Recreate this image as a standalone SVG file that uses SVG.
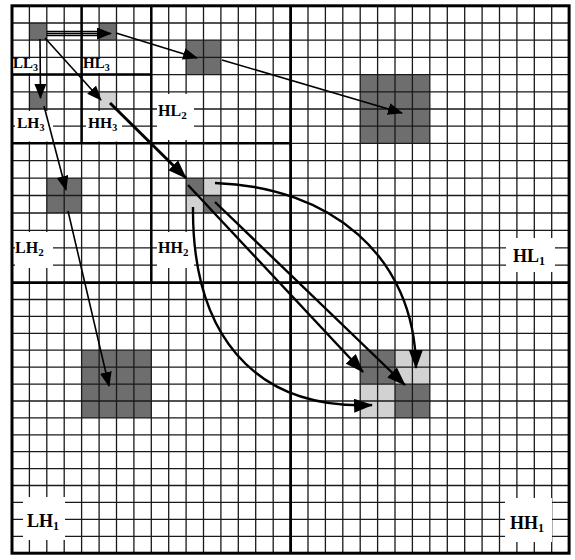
<svg xmlns="http://www.w3.org/2000/svg" width="575" height="560" viewBox="0 0 575 560">
<style>
.thin{fill:none;stroke:#1a1a1a;stroke-width:1.3}
.thick{fill:none;stroke:#000;stroke-width:2.5}
.frame{fill:none;stroke:#000;stroke-width:3}
.dk{fill:#6e6e6e}
.lt{fill:#d2d2d2}
.wb{fill:#fff}
.lbl{font-family:"Liberation Serif","Times New Roman",serif;font-weight:bold;fill:#000}
.a1{fill:none;stroke:#000;stroke-width:1.6}
.a2{fill:none;stroke:#000;stroke-width:2.4}
.a3{fill:none;stroke:#000;stroke-width:3}
</style>
<defs>
<marker id="ah" viewBox="0 0 19 14" refX="18" refY="7" markerWidth="19" markerHeight="14" orient="auto" markerUnits="userSpaceOnUse">
<path d="M0,0 L19,7 L0,14 z" fill="#000"/>
</marker>
<marker id="ahs" viewBox="0 0 15 12" refX="14" refY="6" markerWidth="15" markerHeight="12" orient="auto" markerUnits="userSpaceOnUse">
<path d="M0,0 L15,6 L0,12 z" fill="#000"/>
</marker>
</defs>
<rect x="0" y="0" width="575" height="560" fill="#fff"/>
<g id="blocks">
<rect class="dk" x="29.4" y="23" width="17.4" height="17.2"/>
<rect class="dk" x="99.1" y="23" width="17.4" height="17.2"/>
<rect class="dk" x="29.4" y="91.8" width="17.4" height="17.2"/>
<rect class="lt" x="99.1" y="91.8" width="17.4" height="17.2"/>
<rect class="dk" x="186.1" y="40.2" width="34.8" height="34.4"/>
<rect class="dk" x="46.8" y="178.1" width="34.8" height="34.9"/>
<rect class="dk" x="186.1" y="178.1" width="17.4" height="17.4"/>
<rect class="lt" x="203.5" y="178.1" width="17.4" height="17.4"/>
<rect class="lt" x="186.1" y="195.5" width="17.4" height="17.5"/>
<rect class="dk" x="203.5" y="195.5" width="17.4" height="17.5"/>
<rect class="dk" x="360.2" y="74.6" width="69.6" height="68.7"/>
<rect class="dk" x="81.6" y="350.2" width="69.7" height="67.7"/>
<rect class="dk" x="360.2" y="350.2" width="34.8" height="33.9"/>
<rect class="lt" x="395" y="350.2" width="34.8" height="33.9"/>
<rect class="lt" x="360.2" y="384.1" width="34.8" height="33.8"/>
<rect class="dk" x="395" y="384.1" width="34.8" height="33.8"/>
</g>
<g id="grid">
<path class="thin" d="M29.4 5.8V553.2M46.8 5.8V553.2M64.2 5.8V553.2M81.6 5.8V553.2M99.1 5.8V553.2M116.5 5.8V553.2M133.9 5.8V553.2M151.3 5.8V553.2M168.7 5.8V553.2M186.1 5.8V553.2M203.5 5.8V553.2M220.9 5.8V553.2M238.3 5.8V553.2M255.7 5.8V553.2M273.2 5.8V553.2M308 5.8V553.2M325.4 5.8V553.2M342.8 5.8V553.2M360.2 5.8V553.2M377.6 5.8V553.2M395 5.8V553.2M412.4 5.8V553.2M429.8 5.8V553.2M447.3 5.8V553.2M464.7 5.8V553.2M482.1 5.8V553.2M499.5 5.8V553.2M516.9 5.8V553.2M534.3 5.8V553.2M551.7 5.8V553.2"/>
<path class="thin" d="M12 23H569.1M12 40.2H569.1M12 57.4H569.1M12 74.6H569.1M12 91.8H569.1M12 109H569.1M12 126.1H569.1M12 143.3H569.1M12 160.7H569.1M12 178.1H569.1M12 195.5H569.1M12 213H569.1M12 230.4H569.1M12 247.8H569.1M12 265.2H569.1M12 299.5H569.1M12 316.4H569.1M12 333.3H569.1M12 350.2H569.1M12 367.2H569.1M12 384.1H569.1M12 401H569.1M12 417.9H569.1M12 434.8H569.1M12 451.7H569.1M12 468.6H569.1M12 485.5H569.1M12 502.4H569.1M12 519.3H569.1M12 536.3H569.1"/>
<path class="thick" d="M81.6 5.8V143.3M12 74.6H151.3M151.3 5.8V282.6M12 143.3H290.6"/>
<path class="thick" style="stroke-width:2.8" d="M290.6 5.8V553.2M12 282.6H569.1"/>
<rect class="frame" x="12" y="5.8" width="557.1" height="547.4"/>
</g>
<g id="labels">
<rect class="wb" x="13.5" y="59" width="24.5" height="14"/>
<rect class="wb" x="83" y="59" width="28" height="14"/>
<rect class="wb" x="15" y="111" width="38" height="30.5"/>
<rect class="wb" x="86" y="111" width="36" height="30.5"/>
<rect class="wb" x="157" y="94" width="37" height="46"/>
<rect class="wb" x="15" y="232" width="38" height="36"/>
<rect class="wb" x="157" y="232" width="37" height="36"/>
<rect class="wb" x="506" y="238" width="49" height="34"/>
<rect class="wb" x="23" y="497" width="42" height="43"/>
<rect class="wb" x="505" y="498" width="47" height="44"/>
<text class="lbl" x="13" y="68" font-size="15">LL<tspan font-size="10" dy="3">3</tspan></text>
<text class="lbl" x="83" y="68" font-size="15">HL<tspan font-size="10" dy="3">3</tspan></text>
<text class="lbl" x="17" y="128" font-size="15.5">LH<tspan font-size="10" dy="3">3</tspan></text>
<text class="lbl" x="88" y="128" font-size="15.5">HH<tspan font-size="10" dy="3">3</tspan></text>
<text class="lbl" x="158" y="116" font-size="16">HL<tspan font-size="11" dy="3">2</tspan></text>
<text class="lbl" x="15" y="253" font-size="16">LH<tspan font-size="11" dy="3">2</tspan></text>
<text class="lbl" x="158" y="253" font-size="16">HH<tspan font-size="11" dy="3">2</tspan></text>
<text class="lbl" x="513" y="262" font-size="18">HL<tspan font-size="12" dy="3">1</tspan></text>
<text class="lbl" x="27" y="527" font-size="18">LH<tspan font-size="12" dy="3">1</tspan></text>
<text class="lbl" x="510" y="529" font-size="18">HH<tspan font-size="12" dy="3">1</tspan></text>
</g>
<g id="connectors">
<path class="a1" d="M47 31.5H100M47 35.5H100"/>
<path class="a1" d="M47 33.5H111" marker-end="url(#ahs)" stroke="none"/>
<path class="a1" d="M45 38L101 100" marker-end="url(#ahs)"/>
<path class="a1" d="M40 39L40.5 98" marker-end="url(#ahs)"/>
<path class="a1" d="M116 33L197 58" marker-end="url(#ahs)"/>
<path class="a1" d="M222 60L402 113" marker-end="url(#ahs)"/>
<path class="a1" d="M44 106L66 190" marker-end="url(#ahs)"/>
<path class="a1" d="M68 211L109 386" marker-end="url(#ahs)"/>
<path class="a3" d="M110 103L186 178" marker-end="url(#ah)"/>
<path class="a2" d="M188 185L363 372" marker-end="url(#ah)"/>
<path class="a2" d="M215 202L405 385" marker-end="url(#ah)"/>
<path class="a2" d="M215 183C330 187 415 255 416 368" marker-end="url(#ah)"/>
<path class="a2" d="M193 207C192 330 250 410 372 405" marker-end="url(#ah)"/>
</g>
</svg>
